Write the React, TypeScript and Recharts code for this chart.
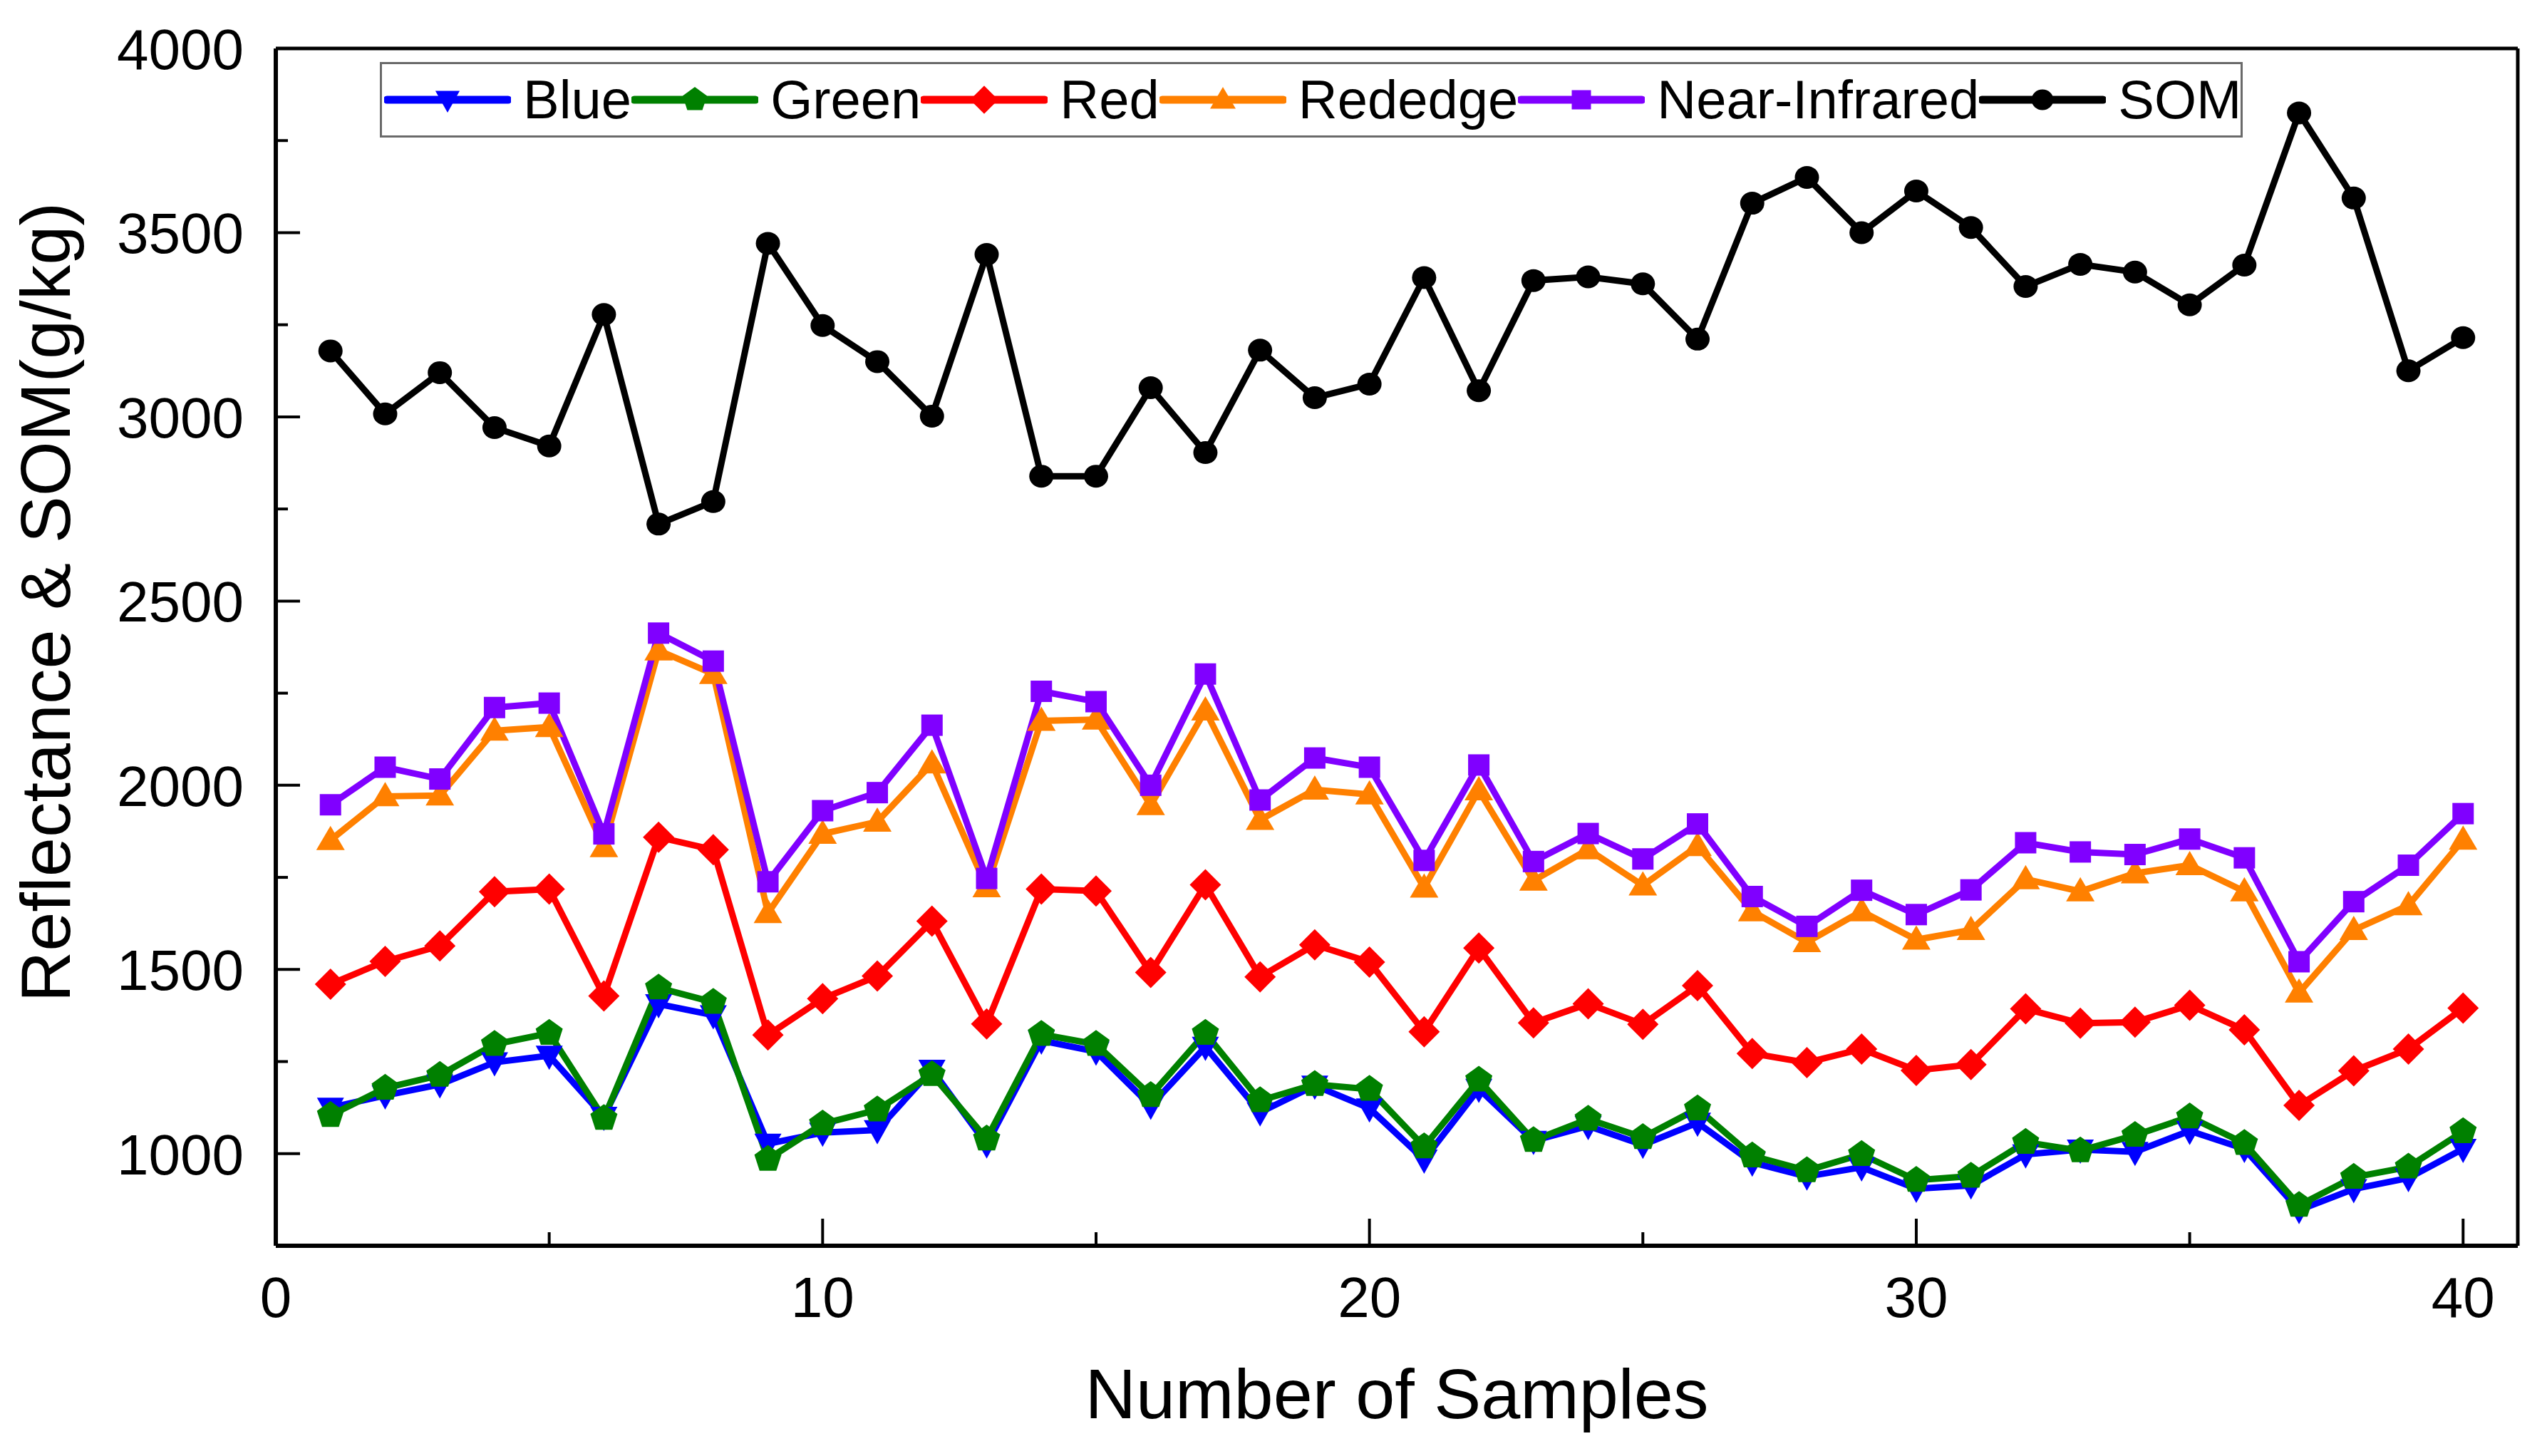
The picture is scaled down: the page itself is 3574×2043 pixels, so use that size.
import { Legend, Line, LineChart, ReferenceLine, XAxis, YAxis } from 'recharts';

const samples = [
    1, 2, 3, 4, 5, 6, 7, 8, 9, 10, 11, 12, 13, 14, 15, 16, 17, 18, 19, 20,
    21, 22, 23, 24, 25, 26, 27, 28, 29, 30, 31, 32, 33, 34, 35, 36, 37, 38, 39, 40,
];

const blue = [
    1125, 1158, 1188, 1248, 1266, 1100, 1406, 1376, 1027, 1057,
    1064, 1228, 1025, 1307, 1277, 1130, 1290, 1112, 1185, 1123,
    984, 1176, 1035, 1075, 1024, 1084, 976, 938, 963, 905,
    914, 998, 1011, 1005, 1062, 1013, 847, 904, 934, 1013,
];
const green = [
    1104, 1178, 1213, 1297, 1327, 1096, 1450, 1411, 985, 1081,
    1119, 1215, 1040, 1324, 1297, 1158, 1327, 1144, 1188, 1175,
    1019, 1200, 1036, 1094, 1044, 1122, 994, 954, 998, 928,
    939, 1031, 1008, 1050, 1100, 1028, 860, 936, 964, 1060,
];
const red = [
    1460, 1522, 1564, 1711, 1718, 1428, 1859, 1825, 1322, 1421,
    1482, 1631, 1352, 1718, 1713, 1492, 1730, 1480, 1567, 1520,
    1331, 1558, 1355, 1407, 1351, 1456, 1272, 1247, 1284, 1226,
    1242, 1393, 1354, 1357, 1403, 1336, 1131, 1225, 1284, 1395,
];
const rededge = [
    1851, 1970, 1972, 2148, 2158, 1832, 2366, 2302, 1653, 1868,
    1901, 2059, 1723, 2175, 2178, 1946, 2203, 1906, 1988, 1975,
    1722, 1986, 1741, 1826, 1728, 1835, 1658, 1574, 1658, 1581,
    1607, 1745, 1712, 1761, 1783, 1712, 1437, 1607, 1674, 1852,
];
const nearInfrared = [
    1947, 2049, 2017, 2211, 2223, 1868, 2413, 2337, 1738, 1931,
    1980, 2163, 1747, 2255, 2227, 2000, 2302, 1960, 2074, 2049,
    1796, 2055, 1793, 1869, 1800, 1895, 1698, 1617, 1715, 1649,
    1716, 1844, 1819, 1812, 1854, 1803, 1521, 1684, 1783, 1923,
];
const som = [
    3179, 3008, 3120, 2971, 2921, 3278, 2709, 2770, 3471, 3248,
    3150, 3002, 3441, 2839, 2839, 3079, 2903, 3181, 3052, 3089,
    3378, 3071, 3370, 3380, 3361, 3211, 3580, 3650, 3500, 3613,
    3514, 3354, 3414, 3393, 3304, 3412, 3825, 3594, 3125, 3215,
];

const xTicks = [0, 5, 10, 15, 20, 25, 30, 35, 40];
const yTicks = [1000, 1250, 1500, 1750, 2000, 2250, 2500, 2750, 3000, 3250, 3500, 3750, 4000];

const data = samples.map((x, i) => ({
    x,
    blue: blue[i],
    green: green[i],
    red: red[i],
    rededge: rededge[i],
    nir: nearInfrared[i],
    som: som[i],
}));

const FONT = '"Liberation Sans", Arial, sans-serif';

type Shape = 'triangleDown' | 'pentagon' | 'diamond' | 'triangle' | 'square' | 'circle';

const series: { key: string; name: string; color: string; shape: Shape }[] = [
    { key: 'blue', name: 'Blue', color: '#0000FF', shape: 'triangleDown' },
    { key: 'green', name: 'Green', color: '#008000', shape: 'pentagon' },
    { key: 'red', name: 'Red', color: '#FF0000', shape: 'diamond' },
    { key: 'rededge', name: 'Rededge', color: '#FF8000', shape: 'triangle' },
    { key: 'nir', name: 'Near-Infrared', color: '#8000FF', shape: 'square' },
    { key: 'som', name: 'SOM', color: '#000000', shape: 'circle' },
];

const pentagonPoints = (r: number) => {
    const pts: string[] = [];
    for (let k = 0; k < 5; k++) {
        const a = -Math.PI / 2 + (k * 2 * Math.PI) / 5;
        pts.push(`${(r * Math.cos(a)).toFixed(2)},${(r * Math.sin(a)).toFixed(2)}`);
    }
    return pts.join(' ');
};

const Marker = ({ cx, cy, shape, color, s = 1 }: { cx: number; cy: number; shape: Shape; color: string; s?: number }) => {
    let el;
    if (shape === 'circle') el = <ellipse cx={0} cy={0} rx={17 * s} ry={16 * s} />;
    else if (shape === 'square') el = <rect x={-15 * s} y={-15 * s} width={30 * s} height={30 * s} />;
    else if (shape === 'diamond') el = <polygon points={`0,${-22 * s} ${22 * s},0 0,${22 * s} ${-22 * s},0`} />;
    else if (shape === 'triangle') el = <polygon points={`0,${-20 * s} ${20 * s},${14 * s} ${-20 * s},${14 * s}`} />;
    else if (shape === 'triangleDown') el = <polygon points={`0,${20 * s} ${19 * s},${-14 * s} ${-19 * s},${-14 * s}`} />;
    else el = <polygon points={pentagonPoints(20 * s)} />;
    return (
        <g transform={`translate(${cx},${cy})`} fill={color} stroke="none">
            {el}
        </g>
    );
};

const YTick = ({ x, y, payload }: any) => {
    const major = payload.value % 500 === 0;
    return (
        <g>
            <line x1={x} x2={x + (major ? 34 : 17)} y1={y} y2={y} stroke="#000" strokeWidth={4} />
            {major && (
                <text x={x - 45} y={y} dy="0.36em" textAnchor="end" fontSize={80} fontFamily={FONT} fill="#000">
                    {payload.value}
                </text>
            )}
        </g>
    );
};

const XTick = ({ x, y, payload }: any) => {
    const major = payload.value % 10 === 0;
    return (
        <g>
            <line x1={x} x2={x} y1={y} y2={y - (major ? 38 : 19)} stroke="#000" strokeWidth={4} />
            {major && (
                <text x={x} y={y + 100} textAnchor="middle" fontSize={80} fontFamily={FONT} fill="#000">
                    {payload.value}
                </text>
            )}
        </g>
    );
};

const LegendBox = () => (
    <div
        style={{
            boxSizing: 'border-box',
            width: 2614,
            height: 106,
            border: '3px solid #6a6a6a',
            background: '#fff',
            display: 'flex',
            alignItems: 'center',
            paddingLeft: 3,
            fontFamily: FONT,
            whiteSpace: 'nowrap',
            overflow: 'hidden',
        }}
    >
        {series.map((s) => (
            <div key={s.key} style={{ display: 'flex', alignItems: 'center', flexShrink: 0 }}>
                <svg width={178} height={50} style={{ flexShrink: 0 }}>
                    <line x1={4} x2={174} y1={25} y2={25} stroke={s.color} strokeWidth={11} strokeLinecap="round" />
                    <Marker cx={89} cy={25} shape={s.shape} color={s.color} s={0.9} />
                </svg>
                <span style={{ fontSize: 76, lineHeight: 1, marginLeft: 17, color: '#000', whiteSpace: 'nowrap' }}>
                    {s.name}
                </span>
            </div>
        ))}
    </div>
);

const App = () => {
    return (
        <div style={{ position: 'absolute', left: 0, top: 0, background: '#fff' }}>
            <LineChart width={3574} height={2043} data={data} margin={{ top: 68, right: 41, bottom: 195, left: 287 }}>
                <XAxis
                    type="number"
                    dataKey="x"
                    domain={[0, 41]}
                    ticks={xTicks}
                    interval={0}
                    height={100}
                    tickSize={0}
                    tickMargin={0}
                    tick={<XTick />}
                    axisLine={{ stroke: '#000', strokeWidth: 6 }}
                    label={{
                        content: () => (
                            <text x={1960} y={1990} textAnchor="middle" fontSize={99} fontFamily={FONT} fill="#000">
                                Number of Samples
                            </text>
                        ),
                    }}
                />
                <YAxis
                    type="number"
                    domain={[750, 4000]}
                    ticks={yTicks}
                    interval={0}
                    width={100}
                    tickSize={0}
                    tickMargin={0}
                    tick={<YTick />}
                    axisLine={{ stroke: '#000', strokeWidth: 6 }}
                    label={{
                        content: () => (
                            <text
                                x={98}
                                y={845}
                                transform="rotate(-90 98 845)"
                                textAnchor="middle"
                                fontSize={99}
                                fontFamily={FONT}
                                fill="#000"
                            >
                                Reflectance &amp; SOM(g/kg)
                            </text>
                        ),
                    }}
                />
                <ReferenceLine y={4000} stroke="#000" strokeWidth={5} />
                <ReferenceLine x={41} stroke="#000" strokeWidth={5} />
                <Legend
                    layout="horizontal"
                    verticalAlign="middle"
                    align="center"
                    wrapperStyle={{ top: 87, left: 533, width: 2614, height: 106 }}
                    content={() => <LegendBox />}
                />
                {series.map((s) => (
                    <Line
                        key={s.key}
                        type="linear"
                        dataKey={s.key}
                        name={s.name}
                        stroke={s.color}
                        strokeWidth={9}
                        isAnimationActive={false}
                        dot={(p: any) => (
                            <Marker key={`${s.key}-${p.index}`} cx={p.cx} cy={p.cy} shape={s.shape} color={s.color} />
                        )}
                        activeDot={false}
                    />
                ))}
            </LineChart>
        </div>
    );
};

export default App;
